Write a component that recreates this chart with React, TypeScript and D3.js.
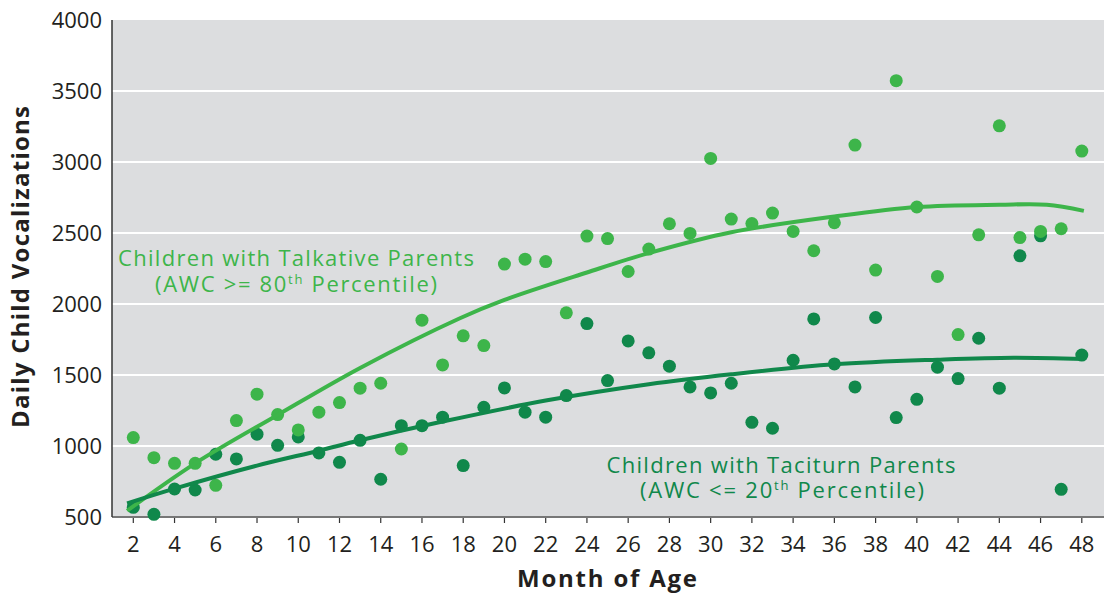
import React from "react";
import * as d3 from "d3";

const months = d3.range(2, 49);
const talkative = [1059, 918, 878, 878, 723, 1179, 1365, 1221, 1113, 1238, 1306, 1407, 1442, 979, 1886, 1571, 1776, 1707, 2281, 2316, 2299, 1938, 2478, 2461, 2229, 2387, 2565, 2497, 3025, 2598, 2567, 2640, 2511, 2375, 2572, 3119, 2239, 3573, 2683, 2194, 1785, 2487, 3255, 2468, 2511, 2530, 3077];
const taciturn = [568, 519, 697, 690, 942, 909, 1083, 1005, 1064, 951, 885, 1040, 766, 1143, 1143, 1203, 862, 1273, 1409, 1238, 1203, 1355, 1862, 1461, 1740, 1656, 1562, 1416, 1374, 1442, 1167, 1125, 1604, 1895, 1578, 1416, 1905, 1200, 1329, 1555, 1475, 1759, 1407, 2339, 2480, 695, 1640];

const talkTrendMonths = [1.7, 5, 9, 13, 17.84, 20, 24, 27, 31, 36, 40, 44, 46.3, 48.1];
const talkTrendValues = [544, 878, 1219, 1550, 1900, 2029, 2222, 2358, 2505, 2616, 2683, 2699, 2699, 2656];
const tacTrendMonths = [1.7, 4, 8, 11, 13, 17, 22, 27, 31, 36, 41, 44.7, 48.1];
const tacTrendValues = [596, 700, 862, 967, 1040, 1172, 1320, 1435, 1505, 1575, 1608, 1622, 1612];

const yTicks = [500, 1000, 1500, 2000, 2500, 3000, 3500, 4000];
const xTicks = d3.range(2, 49, 2);

const LIGHT = "#3db54a";
const DARK = "#10884b";
const FONT = "'Open Sans', Lato, sans-serif";
const INK = "#231f20";

export default function App() {
  const W = 1106, H = 595;
  const left = 112, right = 1104, top = 20, bottom = 517;
  const x = d3.scaleLinear().domain([2, 48]).range([133.3, 1081.8]);
  const y = d3.scaleLinear().domain([500, 4000]).range([bottom, top]);
  const line = d3.line<[number, number]>().x(d => x(d[0])).y(d => y(d[1])).curve(d3.curveCatmullRom.alpha(0.5));
  const talkPath = line(talkTrendMonths.map((m, i) => [m, talkTrendValues[i]]))!;
  const tacPath = line(tacTrendMonths.map((m, i) => [m, tacTrendValues[i]]))!;
  const r = 6.5;
  return (
    <svg width={W} height={H} style={{ position: "absolute", left: 0, top: 0, background: "#fff" }} fontFamily={FONT}>
      <rect x={left} y={top} width={right - left} height={bottom - top} fill="#dcdddf" />
      {yTicks.filter(t => t > 500 && t < 4000).map(t => (
        <line key={t} x1={left} x2={right} y1={y(t)} y2={y(t)} stroke="#fff" strokeWidth={2} />
      ))}
      {yTicks.map(t => (
        <text key={t} x={102} y={y(t)} dy="0.36em" textAnchor="end" fontSize={22} fill={INK}>{t}</text>
      ))}
      {xTicks.map(t => (
        <g key={t}>
          <line x1={x(t)} x2={x(t)} y1={bottom} y2={bottom + 6} stroke="#333" strokeWidth={1.2} />
          <text x={x(t)} y={552} textAnchor="middle" fontSize={22} fill={INK}>{t}</text>
        </g>
      ))}
      <line x1={left} x2={right} y1={bottom} y2={bottom} stroke="#777" strokeWidth={2} />
      <line x1={left} x2={left} y1={top} y2={bottom} stroke="#333" strokeWidth={1.5} />
      {months.map((m, i) => (
        <circle key={"d" + m} cx={x(m)} cy={y(taciturn[i])} r={r} fill={DARK} />
      ))}
      {months.map((m, i) => (
        <circle key={"l" + m} cx={x(m)} cy={y(talkative[i])} r={r} fill={LIGHT} />
      ))}
      <path d={talkPath} fill="none" stroke={LIGHT} strokeWidth={4} />
      <path d={tacPath} fill="none" stroke={DARK} strokeWidth={4} />
      <text x={296} y={266} textAnchor="middle" fontSize={22} fill={LIGHT} textLength={356} lengthAdjust="spacing">Children with Talkative Parents</text>
      <text x={296} y={292} textAnchor="middle" fontSize={22} fill={LIGHT} textLength={282} lengthAdjust="spacing">
        (AWC &gt;= 80<tspan fontSize={13} dy={-8}>th</tspan><tspan dy={8}> Percentile)</tspan>
      </text>
      <text x={781} y={473} textAnchor="middle" fontSize={22} fill={DARK} textLength={349} lengthAdjust="spacing">Children with Taciturn Parents</text>
      <text x={782} y={498} textAnchor="middle" fontSize={22} fill={DARK} textLength={284} lengthAdjust="spacing">
        (AWC &lt;= 20<tspan fontSize={13} dy={-8}>th</tspan><tspan dy={8}> Percentile)</tspan>
      </text>
      <text transform={`translate(29,${267}) rotate(-90)`} textAnchor="middle" fontSize={24} fontWeight="bold" fill={INK} textLength={322} lengthAdjust="spacing">Daily Child Vocalizations</text>
      <text x={607} y={587} textAnchor="middle" fontSize={24} fontWeight="bold" fill={INK} textLength={180} lengthAdjust="spacing">Month of Age</text>
    </svg>
  );
}
